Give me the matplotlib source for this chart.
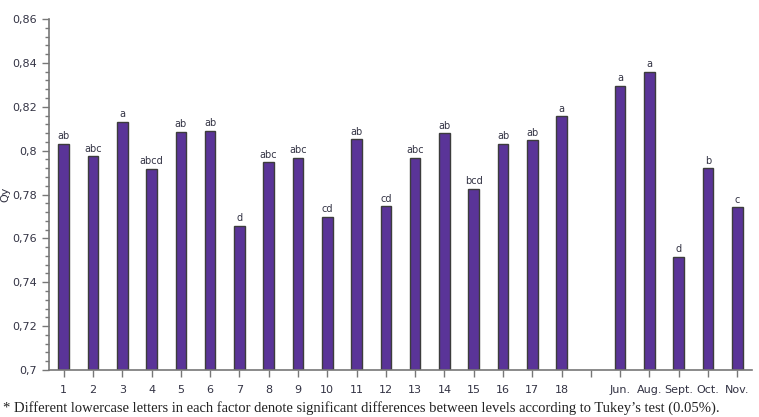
import matplotlib
matplotlib.use("Agg")
import matplotlib.pyplot as plt
from matplotlib.ticker import FuncFormatter, MultipleLocator

# data (blank slot separates the two factors)
labels = ['1', '2', '3', '4', '5', '6', '7', '8', '9', '10', '11', '12', '13', '14',
          '15', '16', '17', '18', '', 'Jun.', 'Aug.', 'Sept.', 'Oct.', 'Nov.']
qy = [0.8031, 0.7974, 0.8132, 0.7918, 0.8087, 0.8089, 0.7658, 0.7947, 0.7967, 0.7699,
      0.8052, 0.7746, 0.7966, 0.8079, 0.7827, 0.8031, 0.8047, 0.8157, None,
      0.8296, 0.8360, 0.7516, 0.7920, 0.7741]
letters = ['ab', 'abc', 'a', 'abcd', 'ab', 'ab', 'd', 'abc', 'abc', 'cd', 'ab', 'cd',
           'abc', 'ab', 'bcd', 'ab', 'ab', 'a', '', 'a', 'a', 'd', 'b', 'c']

fig = plt.figure(figsize=(7.59, 4.17), dpi=100)
ax = fig.add_axes([49 / 759, 1 - 370 / 417, (752 - 49) / 759, (370 - 19) / 417])

txt = '#333344'
for i, (v, lab) in enumerate(zip(qy, letters)):
    if v is None:
        continue
    ax.bar(i, v - 0.7, bottom=0.7, width=0.36, color='#5a3498',
           edgecolor='#3c3c3c', linewidth=1.0, zorder=2)
    ax.text(i, v + 0.0012, lab, ha='center', va='bottom', fontsize=7, color=txt)

ax.set_xlim(-0.5, len(labels) - 0.5)
ax.set_ylim(0.7, 0.86)
ax.set_xticks(range(len(labels)))
ax.set_xticklabels(labels)
ax.yaxis.set_major_locator(MultipleLocator(0.02))
ax.yaxis.set_minor_locator(MultipleLocator(0.004))
ax.yaxis.set_major_formatter(FuncFormatter(lambda v, p: f'{v:g}'.replace('.', ',')))

for s in ['top', 'right']:
    ax.spines[s].set_visible(False)
for s in ['left', 'bottom']:
    ax.spines[s].set_color('#777777')
    ax.spines[s].set_linewidth(1.2)
ax.tick_params(axis='both', which='major', labelsize=8, colors='#777777',
               labelcolor=txt, length=5, width=1)
ax.tick_params(axis='y', which='minor', colors='#777777', length=3, width=1)
ax.tick_params(axis='x', pad=6)

ax.set_ylabel('Qy', fontsize=8, color=txt)
ax.yaxis.set_label_coords(-0.055, 0.5)

fig.text(3 / 759, 1 - 408 / 417,
         '* Different lowercase letters in each factor denote significant differences '
         'between levels according to Tukey\u2019s test (0.05%).',
         ha='left', va='center', fontsize=10.5, family='Liberation Serif', color='#222222')

fig.savefig('out.png', dpi=100)
